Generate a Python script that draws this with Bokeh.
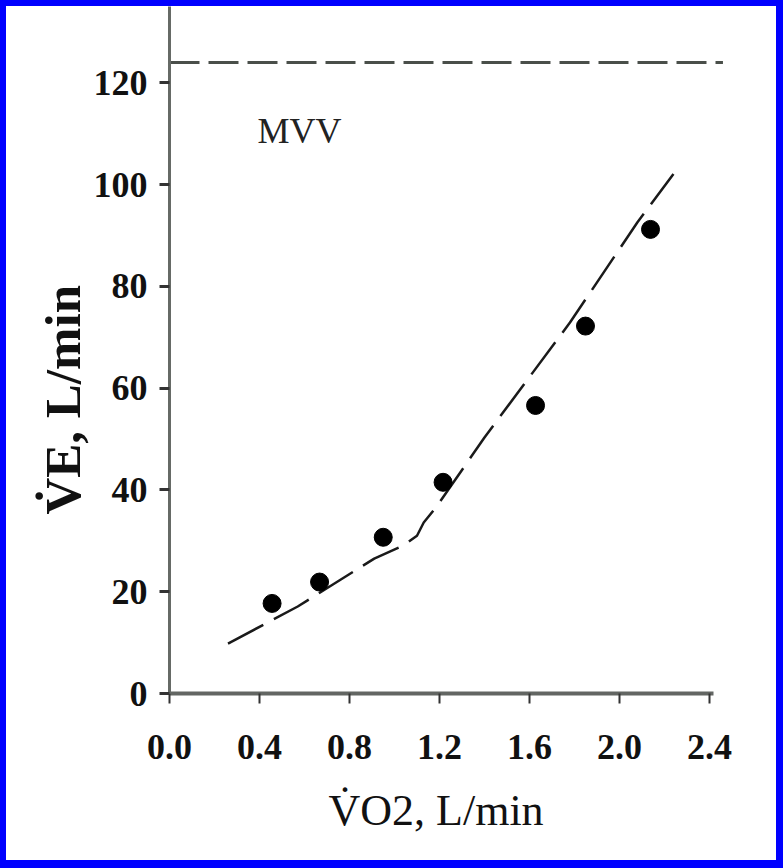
from bokeh.plotting import figure
from bokeh.models import FixedTicker, Label, Range1d, ColumnDataSource, Title
from bokeh.embed import file_html
from bokeh.resources import INLINE

# ---- data ----
vo2_points = [0.456, 0.667, 0.950, 1.216, 1.627, 1.849, 2.138]
ve_points = [17.7, 21.9, 30.7, 41.5, 56.6, 72.2, 91.2]

curve_vo2 = [0.26, 0.57, 0.91, 1.04, 1.10, 1.13, 1.19, 1.40, 1.78, 2.08, 2.24]
curve_ve = [9.8, 17.1, 26.5, 29.1, 31.0, 33.6, 36.9, 50.3, 72.9, 92.6, 102.1]

mvv_value = 124.0
mvv_extent = [0.0, 2.46]
mvv_text = "MVV"

x_ticks = [0.0, 0.4, 0.8, 1.2, 1.6, 2.0, 2.4]
x_tick_labels = ["0.0", "0.4", "0.8", "1.2", "1.6", "2.0", "2.4"]
y_ticks = [0, 20, 40, 60, 80, 100, 120]
y_tick_labels = ["0", "20", "40", "60", "80", "100", "120"]

x_title = "V\u0307O2, L/min"
y_title = "V\u0307E, L/min"

SERIF = "Liberation Serif"

p = figure(
    width=770, height=854,
    x_range=Range1d(0, 2.698), y_range=Range1d(0, 135.0),
    output_backend="svg", toolbar_location=None,
    min_border_left=163, min_border_right=0,
    min_border_top=0, min_border_bottom=167,
)
p.outline_line_color = None
p.background_fill_color = "white"
p.border_fill_color = "white"
p.styles = {"background-color": "white"}
p.grid.visible = False

# x axis
xa = p.xaxis[0]
xa.ticker = FixedTicker(ticks=x_ticks)
xa.major_label_overrides = {t: l for t, l in zip(x_ticks, x_tick_labels)}
xa.bounds = (0, 2.42)
xa.axis_line_width = 4
xa.axis_line_color = "#636663"
xa.major_tick_in = 0
xa.major_tick_out = 10
xa.major_tick_line_width = 2
xa.major_tick_line_color = "#333333"
xa.minor_tick_line_color = None
xa.major_label_text_font = SERIF
xa.major_label_text_font_style = "bold"
xa.major_label_text_font_size = "36px"
xa.major_label_text_color = "#111111"
xa.major_label_standoff = 31

# y axis
ya = p.yaxis[0]
ya.ticker = FixedTicker(ticks=y_ticks)
ya.major_label_overrides = {t: l for t, l in zip(y_ticks, y_tick_labels)}
ya.axis_line_width = 3
ya.axis_line_color = "#666a66"
ya.major_tick_in = 0
ya.major_tick_out = 10
ya.major_tick_line_width = 3
ya.major_tick_line_color = "#333333"
ya.minor_tick_line_color = None
ya.major_label_text_font = SERIF
ya.major_label_text_font_style = "bold"
ya.major_label_text_font_size = "36px"
ya.major_label_text_color = "#111111"
ya.major_label_standoff = 12

# axis titles
p.add_layout(Title(text=x_title, align="left", offset=159, standoff=45,
                   text_font=SERIF, text_font_size="44px",
                   text_font_style="normal", text_color="#111111"), "below")
p.add_layout(Title(text=y_title, align="left", offset=179, standoff=0,
                   text_font=SERIF, text_font_size="51px",
                   text_font_style="bold", text_color="#111111"), "left")

# MVV line
p.line(mvv_extent, [mvv_value, mvv_value], line_color="#4a4f4a", line_width=3,
       line_dash="30 9")

# fitted curve
p.line(curve_vo2, curve_ve, line_color="#1a1a1a", line_width=2.5, line_dash="40 12")

# data points
src = ColumnDataSource(dict(x=vo2_points, y=ve_points))
p.scatter("x", "y", source=src, size=18, marker="circle",
          fill_color="black", line_color="black")

p.add_layout(Label(x=0.391, y=110.5, text=mvv_text, text_font=SERIF,
                   text_font_size="36px", text_color="#222222",
                   text_baseline="alphabetic", text_align="left"))

html = file_html(p, INLINE)
head, sep, tail = html.partition("</head>")
if sep:
    tail = tail.replace("<body>", '<body style="background-color:#0000ff; padding:6px 7px 8px 6px; box-sizing:border-box;">', 1)
    html = head + sep + tail
open("out.html", "w").write(html)
